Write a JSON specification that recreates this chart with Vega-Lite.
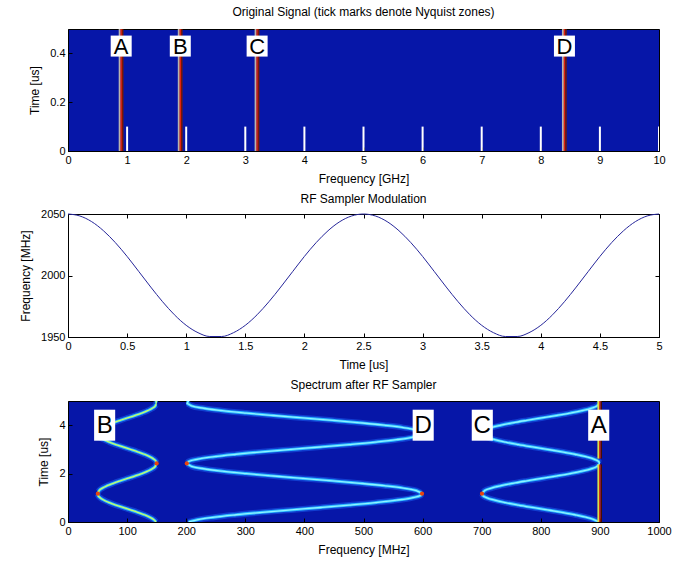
{
  "$schema": "https://vega.github.io/schema/vega-lite/v6.json",
  "background": "white",
  "padding": {"left": 19, "top": 5, "right": 5, "bottom": 5},
  "spacing": 7,
  "config": {
    "font": "Liberation Sans",
    "view": {"stroke": "#000", "strokeWidth": 1},
    "axis": {"grid": false, "domainColor": "#000", "tickColor": "#000", "tickSize": -4, "labelPadding": 7, "labelFont": "Liberation Sans", "labelFontSize": 11, "labelColor": "#000", "titleFont": "Liberation Sans", "titleFontSize": 12, "titleFontWeight": "normal", "titleColor": "#000", "labelFlush": false, "titlePadding": 8},
    "title": {"font": "Liberation Sans", "fontSize": 12, "fontWeight": "normal", "color": "#000", "offset": 10}
  },
  "datasets": {
    "sigTop": [
      {"sig": "A", "f": 0.9, "t0": 0, "t1": 0.5, "tl": 0.43},
      {"sig": "B", "f": 1.9, "t0": 0, "t1": 0.5, "tl": 0.43},
      {"sig": "C", "f": 3.2, "t0": 0, "t1": 0.5, "tl": 0.43},
      {"sig": "D", "f": 8.4, "t0": 0, "t1": 0.5, "tl": 0.43}
    ],
    "nyq": [
      {"f": 1, "t0": 0, "t1": 0.1}, {"f": 2, "t0": 0, "t1": 0.1}, {"f": 3, "t0": 0, "t1": 0.1},
      {"f": 4, "t0": 0, "t1": 0.1}, {"f": 5, "t0": 0, "t1": 0.1}, {"f": 6, "t0": 0, "t1": 0.1},
      {"f": 7, "t0": 0, "t1": 0.1}, {"f": 8, "t0": 0, "t1": 0.1}, {"f": 9, "t0": 0, "t1": 0.1},
      {"f": 10, "t0": 0, "t1": 0.1}
    ],
    "mod": [
      {"t": 0.0, "fs": 2050.0}, {"t": 0.1, "fs": 2048.4}, {"t": 0.2, "fs": 2043.8}, {"t": 0.3, "fs": 2036.4},
      {"t": 0.4, "fs": 2026.8}, {"t": 0.5, "fs": 2015.5}, {"t": 0.6, "fs": 2003.1}, {"t": 0.7, "fs": 1990.6},
      {"t": 0.8, "fs": 1978.7}, {"t": 0.9, "fs": 1968.1}, {"t": 1.0, "fs": 1959.5}, {"t": 1.1, "fs": 1953.5},
      {"t": 1.2, "fs": 1950.4}, {"t": 1.3, "fs": 1950.4}, {"t": 1.4, "fs": 1953.5}, {"t": 1.5, "fs": 1959.5},
      {"t": 1.6, "fs": 1968.1}, {"t": 1.7, "fs": 1978.7}, {"t": 1.8, "fs": 1990.6}, {"t": 1.9, "fs": 2003.1},
      {"t": 2.0, "fs": 2015.5}, {"t": 2.1, "fs": 2026.8}, {"t": 2.2, "fs": 2036.4}, {"t": 2.3, "fs": 2043.8},
      {"t": 2.4, "fs": 2048.4}, {"t": 2.5, "fs": 2050.0}, {"t": 2.6, "fs": 2048.4}, {"t": 2.7, "fs": 2043.8},
      {"t": 2.8, "fs": 2036.4}, {"t": 2.9, "fs": 2026.8}, {"t": 3.0, "fs": 2015.5}, {"t": 3.1, "fs": 2003.1},
      {"t": 3.2, "fs": 1990.6}, {"t": 3.3, "fs": 1978.7}, {"t": 3.4, "fs": 1968.1}, {"t": 3.5, "fs": 1959.5},
      {"t": 3.6, "fs": 1953.5}, {"t": 3.7, "fs": 1950.4}, {"t": 3.8, "fs": 1950.4}, {"t": 3.9, "fs": 1953.5},
      {"t": 4.0, "fs": 1959.5}, {"t": 4.1, "fs": 1968.1}, {"t": 4.2, "fs": 1978.7}, {"t": 4.3, "fs": 1990.6},
      {"t": 4.4, "fs": 2003.1}, {"t": 4.5, "fs": 2015.5}, {"t": 4.6, "fs": 2026.8}, {"t": 4.7, "fs": 2036.4},
      {"t": 4.8, "fs": 2043.8}, {"t": 4.9, "fs": 2048.4}, {"t": 5.0, "fs": 2050.0}
    ],
    "alias": [
      {"t": 0.0, "B": 149.0, "C": 898.0, "D": 204.0},
      {"t": 0.1, "B": 145.0, "C": 889.9, "D": 220.1},
      {"t": 0.2, "B": 138.1, "C": 876.2, "D": 247.5},
      {"t": 0.3, "B": 128.9, "C": 857.7, "D": 284.5},
      {"t": 0.4, "B": 117.8, "C": 835.6, "D": 328.7},
      {"t": 0.5, "B": 105.6, "C": 811.3, "D": 377.4},
      {"t": 0.6, "B": 93.1, "C": 786.2, "D": 427.6},
      {"t": 0.7, "B": 81.0, "C": 762.0, "D": 476.0},
      {"t": 0.8, "B": 70.1, "C": 740.2, "D": 519.6},
      {"t": 0.9, "B": 61.1, "C": 722.2, "D": 555.6},
      {"t": 1.0, "B": 54.5, "C": 709.0, "D": 582.0},
      {"t": 1.1, "B": 50.8, "C": 701.5, "D": 596.9},
      {"t": 1.2, "B": 50.1, "C": 700.3, "D": 599.4},
      {"t": 1.3, "B": 52.6, "C": 705.3, "D": 589.4},
      {"t": 1.4, "B": 58.1, "C": 716.3, "D": 567.5},
      {"t": 1.5, "B": 66.2, "C": 732.5, "D": 535.0},
      {"t": 1.6, "B": 76.5, "C": 752.9, "D": 494.1},
      {"t": 1.7, "B": 88.2, "C": 776.4, "D": 447.3},
      {"t": 1.8, "B": 100.6, "C": 801.3, "D": 397.5},
      {"t": 1.9, "B": 113.0, "C": 826.1, "D": 347.8},
      {"t": 2.0, "B": 124.6, "C": 849.3, "D": 301.5},
      {"t": 2.1, "B": 134.7, "C": 869.4, "D": 261.2},
      {"t": 2.2, "B": 142.6, "C": 885.1, "D": 229.8},
      {"t": 2.3, "B": 147.7, "C": 895.5, "D": 209.0},
      {"t": 2.4, "B": 149.9, "C": 899.9, "D": 200.3},
      {"t": 2.5, "B": 149.0, "C": 898.0, "D": 204.0},
      {"t": 2.6, "B": 145.0, "C": 889.9, "D": 220.1},
      {"t": 2.7, "B": 138.1, "C": 876.2, "D": 247.5},
      {"t": 2.8, "B": 128.9, "C": 857.7, "D": 284.5},
      {"t": 2.9, "B": 117.8, "C": 835.6, "D": 328.7},
      {"t": 3.0, "B": 105.6, "C": 811.3, "D": 377.4},
      {"t": 3.1, "B": 93.1, "C": 786.2, "D": 427.6},
      {"t": 3.2, "B": 81.0, "C": 762.0, "D": 476.0},
      {"t": 3.3, "B": 70.1, "C": 740.2, "D": 519.6},
      {"t": 3.4, "B": 61.1, "C": 722.2, "D": 555.6},
      {"t": 3.5, "B": 54.5, "C": 709.0, "D": 582.0},
      {"t": 3.6, "B": 50.8, "C": 701.5, "D": 596.9},
      {"t": 3.7, "B": 50.1, "C": 700.3, "D": 599.4},
      {"t": 3.8, "B": 52.6, "C": 705.3, "D": 589.4},
      {"t": 3.9, "B": 58.1, "C": 716.3, "D": 567.5},
      {"t": 4.0, "B": 66.2, "C": 732.5, "D": 535.0},
      {"t": 4.1, "B": 76.5, "C": 752.9, "D": 494.1},
      {"t": 4.2, "B": 88.2, "C": 776.4, "D": 447.3},
      {"t": 4.3, "B": 100.6, "C": 801.3, "D": 397.5},
      {"t": 4.4, "B": 113.0, "C": 826.1, "D": 347.8},
      {"t": 4.5, "B": 124.6, "C": 849.3, "D": 301.5},
      {"t": 4.6, "B": 134.7, "C": 869.4, "D": 261.2},
      {"t": 4.7, "B": 142.6, "C": 885.1, "D": 229.8},
      {"t": 4.8, "B": 147.7, "C": 895.5, "D": 209.0},
      {"t": 4.9, "B": 149.9, "C": 899.9, "D": 200.3},
      {"t": 5.0, "B": 149.0, "C": 898.0, "D": 204.0}
    ],
    "aLine": [
      {"f": 900, "t0": 0, "t1": 2.38},
      {"f": 900, "t0": 2.62, "t1": 5}
    ],
    "turns": [
      {"f": 50.5, "t": 1.17}, {"f": 150, "t": 2.42}, {"f": 599, "t": 1.17},
      {"f": 201, "t": 2.42}, {"f": 700.5, "t": 1.17}, {"f": 50.5, "t": 3.67}
    ],
    "sigBot": [
      {"sig": "B", "f": 62, "t": 4.0},
      {"sig": "D", "f": 601, "t": 4.0},
      {"sig": "C", "f": 701, "t": 4.0},
      {"sig": "A", "f": 898, "t": 4.0}
    ]
  },
  "vconcat": [
    {
      "width": 591, "height": 122,
      "title": "Original Signal (tick marks denote Nyquist zones)",
      "view": {"fill": "#0616a8", "stroke": "#000"},
      "encoding": {
        "x": {"field": "f", "type": "quantitative", "scale": {"domain": [0, 10], "nice": false},
              "axis": {"title": "Frequency [GHz]", "values": [0, 1, 2, 3, 4, 5, 6, 7, 8, 9, 10], "labelExpr": "datum.value"}}
      },
      "layer": [
        {"data": {"name": "sigTop"}, "mark": {"type": "rule", "color": "#b9b4ae", "strokeWidth": 2, "xOffset": -1.5, "clip": true},
         "encoding": {"y": {"field": "t0", "type": "quantitative", "scale": {"domain": [0, 0.5], "nice": false},
                            "axis": {"title": "Time [us]", "values": [0, 0.2, 0.4], "labelExpr": "datum.value"}},
                      "y2": {"field": "t1"}}},
        {"data": {"name": "sigTop"}, "mark": {"type": "rule", "color": "#e0220e", "strokeWidth": 1.5, "clip": true},
         "encoding": {"y": {"field": "t0", "type": "quantitative"}, "y2": {"field": "t1"}}},
        {"data": {"name": "sigTop"}, "mark": {"type": "rule", "color": "#7a1a04", "strokeWidth": 1.5, "xOffset": 1.5, "clip": true},
         "encoding": {"y": {"field": "t0", "type": "quantitative"}, "y2": {"field": "t1"}}},
        {"data": {"name": "nyq"}, "mark": {"type": "rule", "color": "white", "strokeWidth": 2, "clip": true},
         "encoding": {"y": {"field": "t0", "type": "quantitative"}, "y2": {"field": "t1"}}},
        {"data": {"name": "sigTop"}, "mark": {"type": "point", "shape": "square", "size": 441, "filled": true, "color": "white", "opacity": 1},
         "encoding": {"y": {"field": "tl", "type": "quantitative"}}},
        {"data": {"name": "sigTop"}, "mark": {"type": "text", "fontSize": 22, "color": "black", "baseline": "middle", "dy": 1},
         "encoding": {"y": {"field": "tl", "type": "quantitative"}, "text": {"field": "sig"}}}
      ]
    },
    {
      "width": 591, "height": 123,
      "title": {"text": "RF Sampler Modulation", "offset": 2},
      "data": {"name": "mod"},
      "layer": [
        {"mark": {"type": "line", "color": "#26269a", "strokeWidth": 1, "interpolate": "monotone"},
         "encoding": {
           "x": {"field": "t", "type": "quantitative", "scale": {"domain": [0, 5], "nice": false},
                 "axis": {"title": "Time [us]", "values": [0, 0.5, 1, 1.5, 2, 2.5, 3, 3.5, 4, 4.5, 5], "labelExpr": "datum.value"}},
           "y": {"field": "fs", "type": "quantitative", "scale": {"domain": [1950, 2050], "nice": false, "zero": false},
                 "axis": {"title": "Frequency [MHz]", "values": [1950, 2000, 2050], "labelExpr": "datum.value"}}
         }},
        {"mark": {"type": "line", "strokeOpacity": 0},
         "encoding": {
           "x": {"field": "t", "type": "quantitative",
                 "axis": {"orient": "top", "labels": false, "title": null, "domain": false, "values": [0, 0.5, 1, 1.5, 2, 2.5, 3, 3.5, 4, 4.5, 5]}},
           "y": {"field": "fs", "type": "quantitative",
                 "axis": {"orient": "right", "labels": false, "title": null, "domain": false, "values": [1950, 2000, 2050]}}
         }}
      ],
      "resolve": {"axis": {"x": "independent", "y": "independent"}}
    },
    {
      "width": 591, "height": 121,
      "title": {"text": "Spectrum after RF Sampler", "offset": 9},
      "view": {"fill": "#0616a8", "stroke": "#000"},
      "encoding": {
        "x": {"field": "f", "type": "quantitative", "scale": {"domain": [0, 1000], "nice": false},
              "axis": {"title": "Frequency [MHz]", "values": [0, 100, 200, 300, 400, 500, 600, 700, 800, 900, 1000], "labelExpr": "datum.value"}}
      },
      "layer": [
        {"data": {"name": "alias"}, "transform": [{"fold": ["B", "C", "D"], "as": ["sig", "f"]}],
         "mark": {"type": "line", "color": "#1a5cf0", "strokeWidth": 6, "opacity": 0.55, "interpolate": "monotone", "clip": true},
         "encoding": {"y": {"field": "t", "type": "quantitative", "scale": {"domain": [0, 5], "nice": false},
                            "axis": {"title": "Time [us]", "values": [0, 2, 4]}},
                      "detail": {"field": "sig"}, "order": {"field": "t", "type": "quantitative"}}},
        {"data": {"name": "alias"}, "transform": [{"fold": ["B", "C", "D"], "as": ["sig", "f"]}],
         "mark": {"type": "line", "color": "#28b8ff", "strokeWidth": 3, "interpolate": "monotone", "clip": true},
         "encoding": {"y": {"field": "t", "type": "quantitative"}, "detail": {"field": "sig"}, "order": {"field": "t", "type": "quantitative"}}},
        {"data": {"name": "alias"}, "transform": [{"fold": ["B", "C", "D"], "as": ["sig", "f"]}],
         "mark": {"type": "line", "strokeWidth": 1.3, "interpolate": "monotone", "clip": true},
         "encoding": {"y": {"field": "t", "type": "quantitative"}, "detail": {"field": "sig"}, "order": {"field": "t", "type": "quantitative"},
                      "color": {"field": "sig", "type": "nominal", "scale": {"domain": ["B", "C", "D"], "range": ["#c8ff6a", "#8ff2ff", "#8ff2ff"]}, "legend": null}}},
        {"data": {"name": "turns"}, "mark": {"type": "point", "shape": "circle", "size": 18, "filled": true, "color": "#e8440e", "opacity": 1},
         "encoding": {"y": {"field": "t", "type": "quantitative"}}},
        {"data": {"name": "aLine"}, "mark": {"type": "rule", "color": "#d8e04a", "strokeWidth": 2, "xOffset": -1.5, "clip": true},
         "encoding": {"y": {"field": "t0", "type": "quantitative"}, "y2": {"field": "t1"}}},
        {"data": {"name": "aLine"}, "mark": {"type": "rule", "color": "#e02a0a", "strokeWidth": 1.5, "clip": true},
         "encoding": {"y": {"field": "t0", "type": "quantitative"}, "y2": {"field": "t1"}}},
        {"data": {"name": "aLine"}, "mark": {"type": "rule", "color": "#4a0c00", "strokeWidth": 1.2, "xOffset": 1.5, "clip": true},
         "encoding": {"y": {"field": "t0", "type": "quantitative"}, "y2": {"field": "t1"}}},
        {"data": {"name": "sigBot"}, "mark": {"type": "point", "shape": "M-0.68,-1L0.68,-1L0.68,1L-0.68,1Z", "size": 961, "filled": true, "color": "white", "opacity": 1},
         "encoding": {"y": {"field": "t", "type": "quantitative"}}},
        {"data": {"name": "sigBot"}, "mark": {"type": "text", "fontSize": 24, "color": "black", "baseline": "middle", "dy": 1},
         "encoding": {"y": {"field": "t", "type": "quantitative"}, "text": {"field": "sig"}}}
      ]
    }
  ]
}
